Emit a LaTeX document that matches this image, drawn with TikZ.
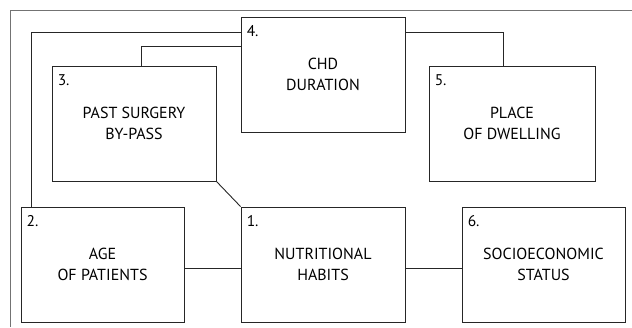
\documentclass[tikz,border=0pt]{standalone}
\usepackage{fontspec}
\setmainfont{PT Sans}
\begin{document}
\begin{tikzpicture}[x=1pt,y=-1pt,
  factor/.style={draw=black!85,line width=0.9pt,minimum width=164pt,minimum height=115pt,
    inner sep=0pt,align=center,font=\fontsize{16}{21}\selectfont},
  num/.style={anchor=north west,inner sep=0pt,font=\fontsize{15.5}{18}\selectfont},
  link/.style={draw=black!85,line width=0.9pt}]
\useasboundingbox (0,0) rectangle (632,327);
% outer frame
\draw[black!55,line width=0.9pt] (632,10) -- (10,10) -- (10,327);
% factor boxes
\node[factor] (b4) at (323,74.5) {CHD\\DURATION};
\node[factor] (b3) at (134,123.5) {PAST SURGERY\\BY-PASS};
\node[factor,minimum width=166pt] (b5) at (512,123.5) {PLACE\\OF DWELLING};
\node[factor,minimum width=163pt] (b2) at (102.5,264.5) {AGE\\OF PATIENTS};
\node[factor] (b1) at (323,264.5) {NUTRITIONAL\\HABITS};
\node[factor,minimum width=163pt] (b6) at (543.5,264.5) {SOCIOECONOMIC\\STATUS};
% numbers
\node[num] (n1) at ([xshift=6pt,yshift=-9pt]b1.north west) {1.};
\node[num] (n2) at ([xshift=6pt,yshift=-9pt]b2.north west) {2.};
\node[num] (n3) at ([xshift=6pt,yshift=-9pt]b3.north west) {3.};
\node[num] (n4) at ([xshift=6pt,yshift=-9pt]b4.north west) {4.};
\node[num] (n5) at ([xshift=6pt,yshift=-9pt]b5.north west) {5.};
\node[num] (n6) at ([xshift=6pt,yshift=-9pt]b6.north west) {6.};
% connectors
\draw[link] ([xshift=11pt]b2.north west) |- ([yshift=-16pt]b4.north west);
\draw[link] ([xshift=90pt]b3.north west) |- ([yshift=-30pt]b4.north west);
\draw[link] ([yshift=-16pt]b4.north east) -| ([xshift=-9pt]b5.north);
\draw[link] (b3.south east) -- (b1.north west);
\draw[link] ([yshift=-4pt]b2.east) -- ([yshift=-4pt]b1.west);
\draw[link] ([yshift=-4pt]b1.east) -- ([yshift=-4pt]b6.west);
\end{tikzpicture}
\end{document}
